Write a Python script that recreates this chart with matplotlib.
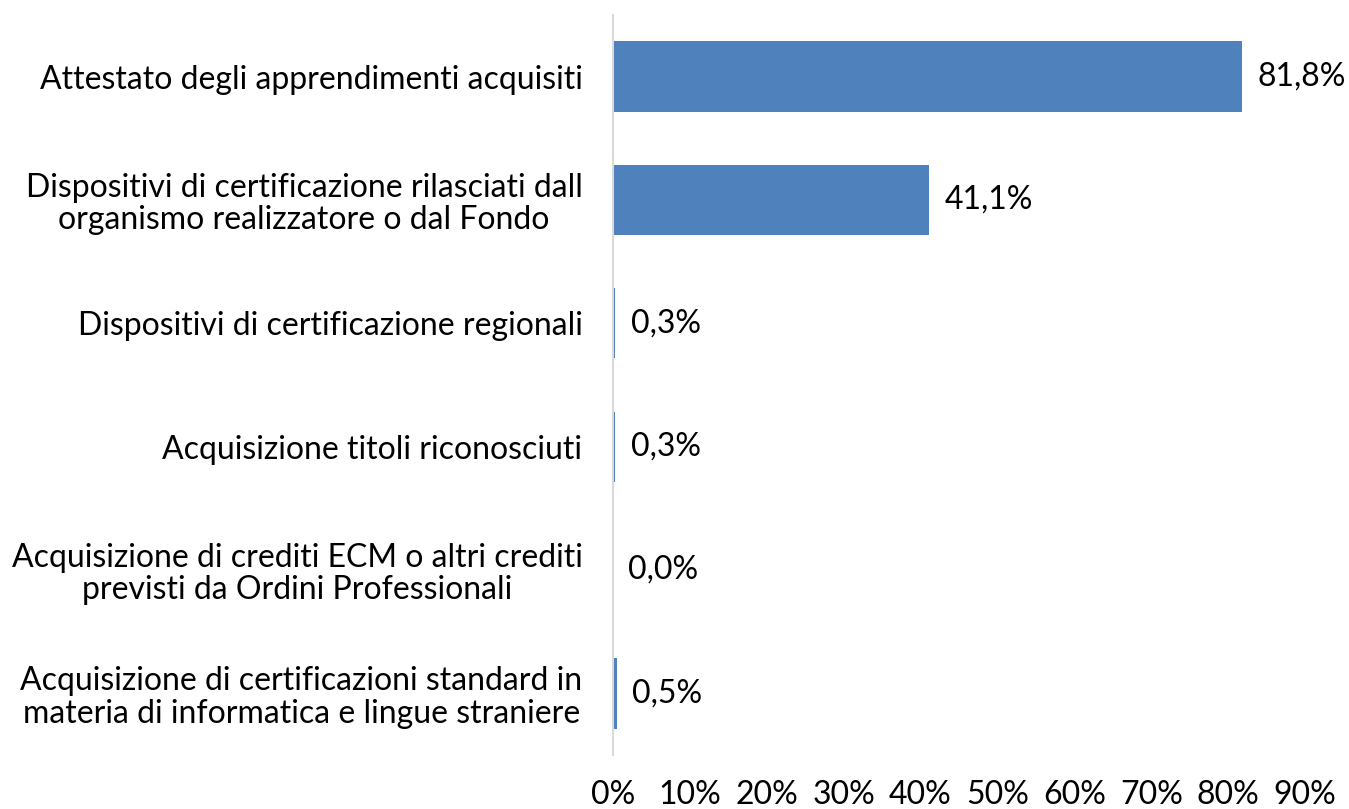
import matplotlib
matplotlib.use('Agg')
import matplotlib.pyplot as plt
import numpy as np

categories = [
    "Attestato degli apprendimenti acquisiti",
    "Dispositivi di certificazione rilasciati dall\norganismo realizzatore o dal Fondo",
    "Dispositivi di certificazione regionali",
    "Acquisizione titoli riconosciuti",
    "Acquisizione di crediti ECM o altri crediti\nprevisti da Ordini Professionali",
    "Acquisizione di certificazioni standard in\nmateria di informatica e lingue straniere",
]
values = [81.8, 41.1, 0.3, 0.3, 0.0, 0.5]
value_labels = ["81,8%", "41,1%", "0,3%", "0,3%", "0,0%", "0,5%"]
xticks = list(range(0, 100, 10))

plt.rcParams['font.family'] = ['Lato', 'DejaVu Sans']

fig = plt.figure(figsize=(13.49, 8.09), dpi=100)
ax = fig.add_axes([0.4544, 0.0667, 0.513, 0.9148])

y = np.arange(len(categories))
ax.barh(y, values, height=0.57, color='#4F81BD')
ax.set_ylim(len(categories) - 0.5, -0.5)
ax.set_xlim(0, 90)

for yi, v, lab in zip(y, values, value_labels):
    ax.annotate(lab, (v, yi), xytext=(11, 0), textcoords='offset points',
                va='center', ha='left', fontsize=23, color='black')

ax.set_yticks(y)
ax.set_yticklabels(categories, fontsize=23, multialignment='center',
                   linespacing=1.1)
ax.set_xticks(xticks)
ax.set_xticklabels([f"{t}%" for t in xticks], fontsize=23)
ax.tick_params(axis='y', length=0, pad=22)
ax.tick_params(axis='x', length=0, pad=18)

for s in ['top', 'right', 'bottom']:
    ax.spines[s].set_visible(False)
ax.spines['left'].set_color('#D9D9D9')
ax.spines['left'].set_linewidth(1.5)

fig.savefig('out.png', dpi=100)
